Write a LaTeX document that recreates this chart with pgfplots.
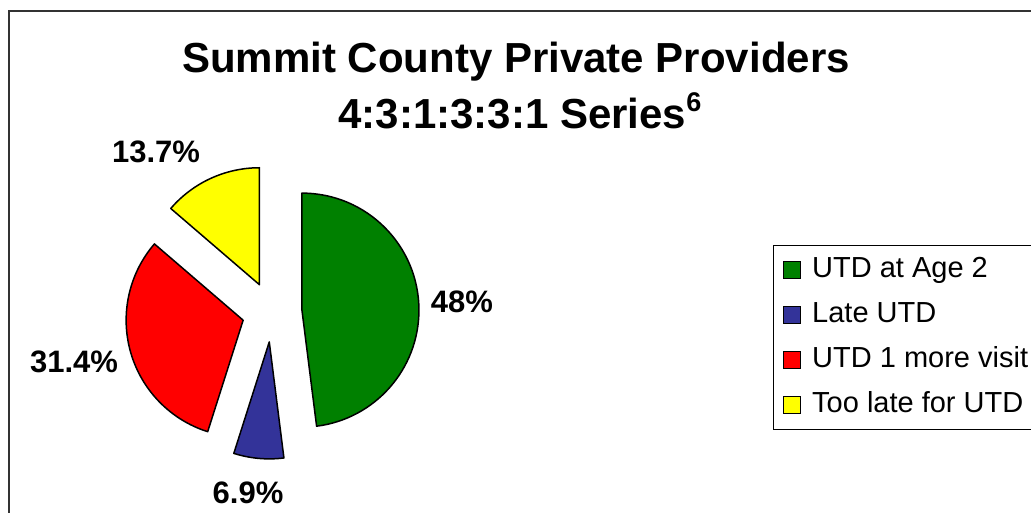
\documentclass[border=0pt]{standalone}
\usepackage{fontspec}
\setmainfont{Liberation Sans}
\usepackage{pgfplots}
\usepackage{pgfplotstable}
\pgfplotsset{compat=1.18}

\definecolor{pie0}{HTML}{008000}
\definecolor{pie1}{HTML}{333399}
\definecolor{pie2}{HTML}{FF0000}
\definecolor{pie3}{HTML}{FFFF00}

% share in percent, label position (px, y downwards)
\pgfplotstableread{
val  lx  ly
48.0 462 302
6.9  248 493
31.4 74  362
13.7 156 152
}\piedata

% pie centre, radius, explosion (px)
\def\cx{272}\def\cy{312}\def\R{117}\def\D{30}

\begin{document}
\begin{tikzpicture}
% angles clockwise from 12 o'clock, as in the original
\gdef\cum{0}
\foreach \i in {0,...,3}{
  \pgfplotstablegetelem{\i}{val}\of\piedata \let\v\pgfplotsretval
  \pgfmathsetmacro{\sa}{\cum*3.6}
  \pgfmathsetmacro{\ea}{(\cum+\v)*3.6}
  \pgfmathsetmacro{\ma}{(\sa+\ea)/2}
  \pgfmathsetmacro{\vx}{\cx+\D*sin(\ma)}
  \pgfmathsetmacro{\vy}{\cy-\D*cos(\ma)}
  \expandafter\xdef\csname sa\i\endcsname{\sa}
  \expandafter\xdef\csname ea\i\endcsname{\ea}
  \expandafter\xdef\csname vx\i\endcsname{\vx}
  \expandafter\xdef\csname vy\i\endcsname{\vy}
  \expandafter\xdef\csname v\i\endcsname{\v}
  \pgfplotstablegetelem{\i}{lx}\of\piedata \expandafter\xdef\csname lx\i\endcsname{\pgfplotsretval}
  \pgfplotstablegetelem{\i}{ly}\of\piedata \expandafter\xdef\csname ly\i\endcsname{\pgfplotsretval}
  \pgfmathsetmacro{\nc}{\cum+\v}\xdef\cum{\nc}
}
\begin{axis}[
    scale only axis, width=1031pt, height=512pt,
    xmin=0, xmax=1031, ymin=0, ymax=512, y dir=reverse,
    hide axis, clip=false,
    legend style={at={(axis cs:773,245)}, anchor=north west,
        draw=black, line width=0.8pt,
        font=\fontsize{29}{29}\selectfont,
        inner xsep=10pt, inner ysep=9pt, row sep=14pt, column sep=9pt,
        nodes={inner sep=2pt, text height=21pt, text depth=6pt}},
    legend cell align=left,
    legend image code/.code={\draw[#1] (0pt,-8.5pt) rectangle (17pt,8.5pt);},
]
\addlegendimage{fill=pie0, draw=black, line width=0.8pt}
\addlegendentry{UTD at Age 2}
\addlegendimage{fill=pie1, draw=black, line width=0.8pt}
\addlegendentry{Late UTD}
\addlegendimage{fill=pie2, draw=black, line width=0.8pt}
\addlegendentry{UTD 1 more visit}
\addlegendimage{fill=pie3, draw=black, line width=0.8pt}
\addlegendentry{Too late for UTD}

% outer frame (cut by the page on the right and at the bottom)
\draw[line width=2pt, black!80] (axis cs:8.5,700) -- (axis cs:8.5,10.5) -- (axis cs:1300,10.5);

\pgfplotsinvokeforeach{0,...,3}{
  \filldraw[fill=pie#1, draw=black, line width=1.5pt, line join=round]
    (axis cs:\csname vx#1\endcsname,\csname vy#1\endcsname)
    -- ++({90-\csname sa#1\endcsname}:\R pt)
    arc[start angle={90-\csname sa#1\endcsname}, end angle={90-\csname ea#1\endcsname}, radius=\R pt]
    -- cycle;
  \node[font=\fontsize{31}{31}\bfseries] at (axis cs:\csname lx#1\endcsname,\csname ly#1\endcsname)
    {\pgfmathprintnumber[fixed,precision=1,assume math mode=true]{\csname v#1\endcsname}\%};
}

\node[font=\fontsize{42}{42}\bfseries, anchor=base] at (axis cs:516,72) {Summit County Private Providers};
\node[font=\fontsize{42}{42}\bfseries, anchor=base] at (axis cs:520,128)
  {4:3:1:3:3:1 Series\raisebox{17pt}{\fontsize{27}{27}\selectfont 6}};
\end{axis}
\pgfresetboundingbox
\useasboundingbox (0,0) rectangle (1031pt,512pt);
\end{tikzpicture}
\end{document}
